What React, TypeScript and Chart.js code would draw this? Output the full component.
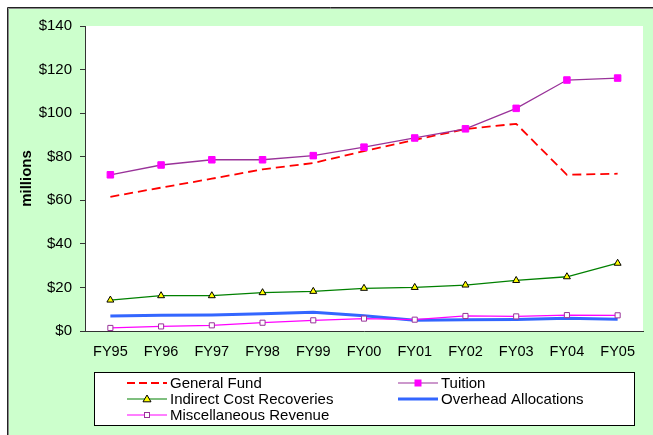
import React, { useEffect, useRef } from "react";
import { Chart, registerables } from "chart.js";

Chart.register(...registerables);

const categories = ["FY95", "FY96", "FY97", "FY98", "FY99", "FY00", "FY01", "FY02", "FY03", "FY04", "FY05"];
const generalFund = [61.6, 65.8, 69.9, 74.2, 77.1, 82.6, 87.7, 92.7, 95.1, 71.7, 72.2];
const tuition = [71.7, 76.2, 78.6, 78.6, 80.5, 84.4, 88.6, 92.8, 102.2, 115.2, 116.1];
const indirectCost = [14.2, 16.2, 16.2, 17.6, 18.2, 19.6, 20.0, 21.1, 23.2, 24.9, 31.1];
const overhead = [6.9, 7.2, 7.3, 7.9, 8.6, 7.0, 4.9, 5.2, 5.3, 5.9, 5.4];
const miscRevenue = [1.4, 2.1, 2.6, 3.8, 4.9, 5.7, 5.2, 6.9, 6.7, 7.3, 7.2];
const yMin = 0;
const yMax = 140;
const yStep = 20;
const yTitle = "millions";

const FONT = "'Liberation Sans', Arial, sans-serif";

type LegendItem = {
  label: string;
  color: string;
  width: number;
  dash?: number[];
  marker?: "rect" | "triangle";
  markerFill?: string;
  markerStroke?: string;
  markerSize?: number;
  col: number;
  row: number;
};

const legendItems: LegendItem[] = [
  { label: "General Fund", color: "#FF0000", width: 2, dash: [8, 4], col: 0, row: 0 },
  { label: "Indirect Cost Recoveries", color: "#008000", width: 1.2, marker: "triangle", markerFill: "#FFFF00", markerStroke: "#000000", markerSize: 4, col: 0, row: 1 },
  { label: "Miscellaneous Revenue", color: "#FF00FF", width: 1.2, marker: "rect", markerFill: "#FFFFFF", markerStroke: "#993399", markerSize: 5, col: 0, row: 2 },
  { label: "Tuition", color: "#993399", width: 1.2, marker: "rect", markerFill: "#FF00FF", markerStroke: "#FF00FF", markerSize: 6, col: 1, row: 0 },
  { label: "Overhead Allocations", color: "#3366FF", width: 3, col: 1, row: 1 },
];

const framePlugin = {
  id: "frame",
  beforeDraw(chart: any) {
    const { ctx, chartArea, width, height } = chart;
    ctx.save();
    ctx.fillStyle = "#FFFFFF";
    ctx.fillRect(0, 0, width, height);
    ctx.fillStyle = "#CCFFCC";
    ctx.fillRect(8, 8, width - 8, height - 8);
    ctx.strokeStyle = "#222222";
    ctx.lineWidth = 1;
    ctx.beginPath();
    ctx.moveTo(7.5, height);
    ctx.lineTo(7.5, 7.5);
    ctx.lineTo(width, 7.5);
    ctx.stroke();
    ctx.strokeStyle = "#8a8a8a";
    ctx.beginPath();
    ctx.moveTo(8.5, height);
    ctx.lineTo(8.5, 8.5);
    ctx.lineTo(width, 8.5);
    ctx.stroke();
    ctx.fillStyle = "#FFFFFF";
    ctx.fillRect(chartArea.left, chartArea.top, chartArea.right - chartArea.left, chartArea.bottom - chartArea.top);
    ctx.restore();
  },
  afterDraw(chart: any) {
    const { ctx, chartArea } = chart;
    ctx.save();
    // y axis title
    ctx.translate(27, (chartArea.top + chartArea.bottom) / 2);
    ctx.rotate(-Math.PI / 2);
    ctx.font = `bold 15px ${FONT}`;
    ctx.fillStyle = "#000000";
    ctx.textAlign = "center";
    ctx.textBaseline = "middle";
    ctx.fillText(yTitle, 0, 0);
    ctx.restore();

    // legend
    ctx.save();
    const bx = 94.5, by = 372.5, bw = 540, bh = 53;
    ctx.fillStyle = "#FFFFFF";
    ctx.fillRect(bx, by, bw, bh);
    ctx.strokeStyle = "#000000";
    ctx.lineWidth = 1;
    ctx.strokeRect(bx, by, bw, bh);
    const colX = [127, 398];
    const rowY = [383, 399, 415];
    const lineLen = 40;
    ctx.font = `15px ${FONT}`;
    ctx.textBaseline = "middle";
    ctx.textAlign = "left";
    for (const it of legendItems) {
      const x0 = colX[it.col];
      const y = rowY[it.row];
      ctx.strokeStyle = it.color;
      ctx.lineWidth = it.width;
      ctx.setLineDash(it.dash || []);
      ctx.beginPath();
      ctx.moveTo(x0, y);
      ctx.lineTo(x0 + lineLen, y);
      ctx.stroke();
      ctx.setLineDash([]);
      const mx = x0 + lineLen / 2;
      if (it.marker === "rect") {
        const s = it.markerSize || 5;
        ctx.fillStyle = it.markerFill || "#fff";
        ctx.strokeStyle = it.markerStroke || "#000";
        ctx.lineWidth = 1;
        ctx.fillRect(mx - s / 2, y - s / 2, s, s);
        ctx.strokeRect(mx - s / 2, y - s / 2, s, s);
      } else if (it.marker === "triangle") {
        const r = it.markerSize || 4;
        ctx.fillStyle = it.markerFill || "#fff";
        ctx.strokeStyle = it.markerStroke || "#000";
        ctx.lineWidth = 1;
        ctx.beginPath();
        ctx.moveTo(mx, y - r);
        ctx.lineTo(mx + r, y + r * 0.7);
        ctx.lineTo(mx - r, y + r * 0.7);
        ctx.closePath();
        ctx.fill();
        ctx.stroke();
      }
      ctx.fillStyle = "#000000";
      ctx.fillText(it.label, x0 + lineLen + 3, y + 0.5);
    }
    ctx.restore();
  },
};

export default function App() {
  const ref = useRef<HTMLCanvasElement | null>(null);

  useEffect(() => {
    if (!ref.current) return;
    const chart = new Chart(ref.current, {
      type: "line",
      data: {
        labels: categories,
        datasets: [
          {
            label: "General Fund",
            data: generalFund,
            borderColor: "#FF0000",
            borderWidth: 1.8,
            borderDash: [9, 5],
            pointRadius: 0,
            tension: 0,
            order: 5,
          },
          {
            label: "Tuition",
            data: tuition,
            borderColor: "#993399",
            borderWidth: 1.3,
            pointStyle: "rect",
            pointRadius: 4.6,
            pointBackgroundColor: "#FF00FF",
            pointBorderColor: "#FF00FF",
            pointBorderWidth: 1,
            tension: 0,
            order: 4,
          },
          {
            label: "Indirect Cost Recoveries",
            data: indirectCost,
            borderColor: "#008000",
            borderWidth: 1.3,
            pointStyle: "triangle",
            pointRadius: 4,
            pointBackgroundColor: "#FFFF00",
            pointBorderColor: "#000000",
            pointBorderWidth: 1,
            tension: 0,
            order: 3,
          },
          {
            label: "Overhead Allocations",
            data: overhead,
            borderColor: "#3366FF",
            borderWidth: 3,
            pointRadius: 0,
            tension: 0,
            order: 2,
          },
          {
            label: "Miscellaneous Revenue",
            data: miscRevenue,
            borderColor: "#FF00FF",
            borderWidth: 1.3,
            pointStyle: "rect",
            pointRadius: 3.6,
            pointBackgroundColor: "#FFFFFF",
            pointBorderColor: "#993399",
            pointBorderWidth: 1,
            tension: 0,
            order: 1,
          },
        ],
      },
      options: {
        animation: false,
        responsive: false,
        devicePixelRatio: 1,
        layout: { padding: { top: 26, right: 10, left: 0, bottom: 0 } },
        plugins: {
          legend: { display: false },
          tooltip: { enabled: false },
          title: { display: false },
        },
        scales: {
          x: {
            type: "category",
            offset: true,
            grid: { display: false, drawTicks: false, drawOnChartArea: false },
            border: { display: true, color: "#333333", width: 1 },
            ticks: {
              color: "#000000",
              font: { family: FONT, size: 14.5 },
              padding: 12,
              maxRotation: 0,
              autoSkip: false,
            },
            afterFit(scale: any) {
              scale.height = 104;
            },
          },
          y: {
            min: yMin,
            max: yMax,
            grid: { display: true, drawOnChartArea: false, drawTicks: true, tickLength: 5, color: "#333333" },
            border: { display: true, color: "#333333", width: 1 },
            ticks: {
              stepSize: yStep,
              color: "#000000",
              font: { family: FONT, size: 15 },
              padding: 8,
              callback: (v: any) => "$" + v,
            },
            afterFit(scale: any) {
              scale.width = 85;
            },
          },
        },
      },
      plugins: [framePlugin],
    } as any);
    return () => chart.destroy();
  }, []);

  return (
    <div style={{ position: "fixed", left: 0, top: 0, width: 653, height: 435, overflow: "hidden" }}>
      <canvas ref={ref} width={653} height={435} style={{ display: "block", width: 653, height: 435 }} />
    </div>
  );
}
